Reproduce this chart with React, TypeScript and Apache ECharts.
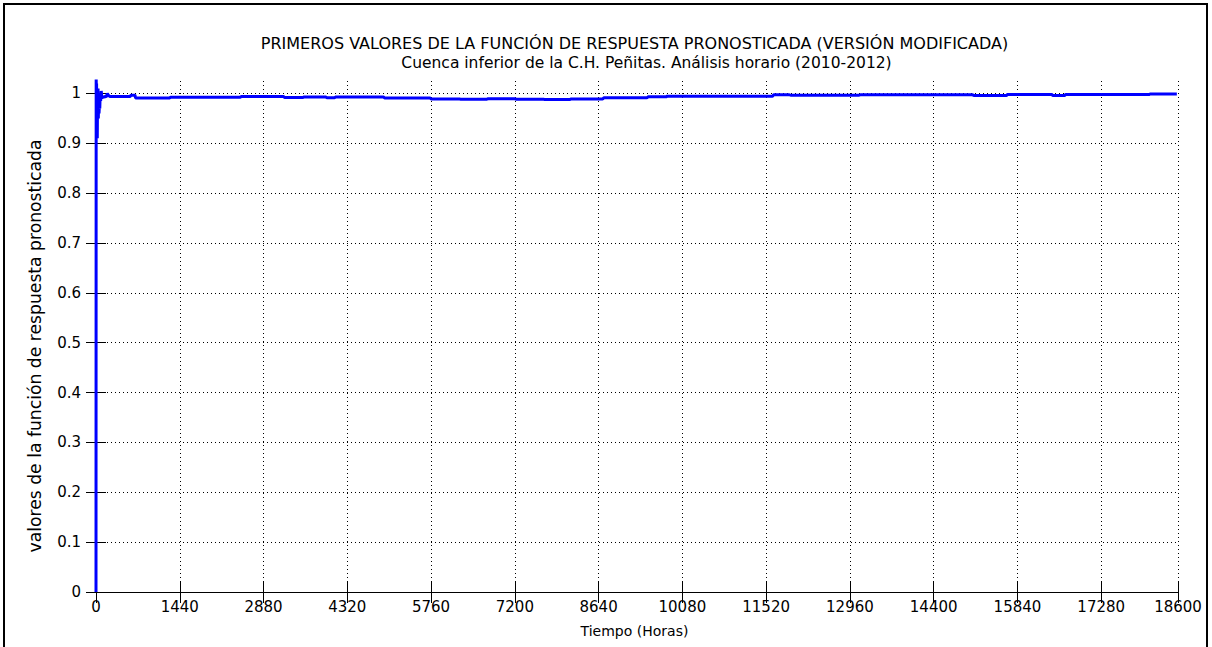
import React, { useEffect, useRef } from "react";
import * as echarts from "echarts";

const TITLE_LINE_1 = "PRIMEROS VALORES DE LA FUNCIÓN DE RESPUESTA PRONOSTICADA (VERSIÓN MODIFICADA)";
const TITLE_LINE_2 = "Cuenca inferior de la C.H. Peñitas. Análisis horario (2010-2012)";
const X_NAME = "Tiempo (Horas)";
const Y_NAME = "valores de la función de respuesta pronosticada";

const xTicks = [0, 1440, 2880, 4320, 5760, 7200, 8640, 10080, 11520, 12960, 14400, 15840, 17280, 18600];
const yTicks = [0, 0.1, 0.2, 0.3, 0.4, 0.5, 0.6, 0.7, 0.8, 0.9, 1];

const hours = [
  0, 3, 6, 10, 14, 18, 22, 26, 30, 35, 40, 46, 52, 58, 65, 72, 80, 90, 100, 115, 130, 150, 175, 195, 215, 240,
  400, 590, 600, 670, 680, 1270, 1280, 2480, 2500, 3220, 3240, 3560, 3580, 3950, 3970, 4100, 4120, 4940, 4960,
  5740, 5760, 6250, 6270, 6720, 6740, 7200, 7220, 7690, 7710, 8150, 8170, 8710, 8730, 9470, 9490, 9800, 9820,
  11630, 11650, 11920, 11940, 12780, 12800, 13120, 13140, 15070, 15090, 15650, 15670, 16430, 16450, 16650,
  16670, 18100, 18120, 18580,
];
const values = [
  0, 1.05, 0.96, 1.02, 0.93, 1.0, 0.91, 0.98, 0.95, 1.01, 0.95, 0.99, 0.96, 0.975, 0.97, 1.0, 0.985, 1.005, 0.99,
  0.995, 0.992, 0.994, 0.993, 1.0, 0.996, 0.994,
  0.994, 0.994, 0.9966, 0.9966, 0.991, 0.991, 0.9926, 0.9926, 0.994, 0.994, 0.992, 0.992, 0.993, 0.993, 0.9915,
  0.9915, 0.993, 0.993, 0.991,
  0.991, 0.989, 0.989, 0.9886, 0.9886, 0.9894, 0.9894, 0.9886, 0.9886, 0.988, 0.988, 0.989, 0.989, 0.9912,
  0.9912, 0.9932, 0.9932, 0.9946,
  0.9946, 0.9972, 0.9972, 0.9966, 0.9966, 0.9966, 0.9966, 0.9972, 0.9972, 0.996, 0.996, 0.9978, 0.9978, 0.996,
  0.996, 0.9978, 0.9978, 0.999, 0.999,
];

const FONT = "DejaVu Sans";

export default function App() {
  const ref = useRef<HTMLDivElement>(null);
  useEffect(() => {
    if (!ref.current) return;
    const chart = echarts.init(ref.current, null, { renderer: "svg" });
    const data = hours.map((h, i) => [h, values[i]]);
    const gridLeft = 91;
    const gridRight = 34;
    const plotCenter = gridLeft + (1212 - gridLeft - gridRight) / 2;
    const fmt = (v: number) => String(Math.round(v * 1000) / 1000);
    chart.setOption({
      animation: false,
      backgroundColor: "#ffffff",
      grid: { left: gridLeft, right: gridRight, top: 81, bottom: 55, containLabel: false },
      graphic: [
        {
          type: "rect",
          shape: { x: 4, y: 4, width: 1203, height: 660 },
          style: { fill: "none", stroke: "#000", lineWidth: 2 },
          silent: true,
        },
        {
          type: "text",
          x: plotCenter,
          y: 43,
          style: { text: TITLE_LINE_1, font: `16px '${FONT}'`, fill: "#000", align: "center", verticalAlign: "middle" },
        },
        {
          type: "text",
          x: plotCenter + 12,
          y: 63,
          style: { text: TITLE_LINE_2, font: `15.5px '${FONT}'`, fill: "#000", align: "center", verticalAlign: "middle" },
        },
        {
          type: "text",
          x: 35,
          y: 346,
          rotation: Math.PI / 2,
          style: { text: Y_NAME, font: `17.2px '${FONT}'`, fill: "#000", align: "center", verticalAlign: "middle" },
        },
      ],
      xAxis: [
        {
          type: "value",
          min: -86,
          max: 18600,
          name: X_NAME,
          nameLocation: "middle",
          nameGap: 32,
          nameTextStyle: { fontFamily: FONT, fontSize: 14, color: "#000" },
          axisLine: { show: true, lineStyle: { color: "#000", width: 1 } },
          axisTick: { show: true, inside: true, length: 11, customValues: xTicks, lineStyle: { color: "#000" } },
          axisLabel: { customValues: xTicks, formatter: fmt, fontFamily: FONT, fontSize: 15, color: "#000", margin: 7 },
          splitLine: { show: true, lineStyle: { color: "#000", type: [1, 3], width: 1 } },
        },
        {
          type: "value",
          position: "top",
          min: -86,
          max: 18600,
          axisLine: { show: true, lineStyle: { color: "#000", width: 1 } },
          axisTick: { show: true, inside: true, length: 11, customValues: xTicks, lineStyle: { color: "#000" } },
          axisLabel: { show: false },
          splitLine: { show: false },
        },
      ],
      yAxis: [
        {
          type: "value",
          min: 0,
          max: 1.025,
          axisLine: { show: true, lineStyle: { color: "#000", width: 1 } },
          axisTick: { show: true, inside: true, length: 10, customValues: yTicks, lineStyle: { color: "#000" } },
          axisLabel: { customValues: yTicks, formatter: fmt, fontFamily: FONT, fontSize: 15, color: "#000", margin: 10 },
          splitLine: { show: true, lineStyle: { color: "#000", type: [1, 3], width: 1 } },
        },
        {
          type: "value",
          position: "right",
          min: 0,
          max: 1.025,
          axisLine: { show: true, lineStyle: { color: "#000", width: 1 } },
          axisTick: { show: true, inside: true, length: 10, customValues: yTicks, lineStyle: { color: "#000" } },
          axisLabel: { show: false },
          splitLine: { show: false },
        },
      ],
      series: [
        {
          type: "line",
          data,
          xAxisIndex: 0,
          yAxisIndex: 0,
          showSymbol: false,
          clip: true,
          lineStyle: { color: "#0000ff", width: 3 },
          z: 5,
        },
      ],
    });
    return () => chart.dispose();
  }, []);
  return <div ref={ref} style={{ position: "fixed", left: 0, top: 0, width: 1212, height: 647 }} />;
}
